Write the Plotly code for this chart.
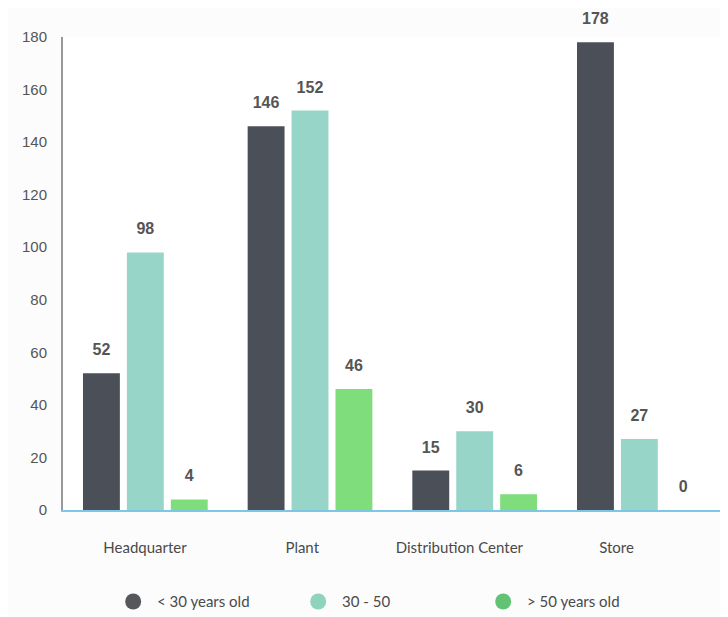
import plotly.graph_objects as go

categories = ["Headquarter", "Plant", "Distribution Center", "Store"]
series_names = ["< 30 years old", "30 - 50", "> 50 years old"]
under_30 = [52, 146, 15, 178]
between_30_50 = [98, 152, 30, 27]
over_50 = [4, 46, 6, 0]
y_ticks = [0, 20, 40, 60, 80, 100, 120, 140, 160, 180]

bar_colors = ["#4b4f57", "#97d5c8", "#80dd7b"]
legend_colors = ["#55575b", "#8ed3bd", "#63c375"]
values = [under_30, between_30_50, over_50]

fig = go.Figure()
for name, vals, col in zip(series_names, values, bar_colors):
    fig.add_trace(go.Bar(
        x=categories, y=vals, name=name, marker_color=col,
        marker_line_width=0,
        text=[f"<span style='font-size:16px'>{v}</span><br> " for v in vals],
        textposition="outside",
        textfont=dict(family="Liberation Sans", size=10, color="#555555", weight="bold"),
        cliponaxis=False, showlegend=False, constraintext="none",
    ))

for name, col in zip(series_names, legend_colors):
    fig.add_trace(go.Scatter(
        x=[None], y=[None], mode="markers", name="\u00a0" + name,
        marker=dict(symbol="circle", size=16, color=col),
        xaxis="x2", showlegend=True,
    ))

# invisible trace carrying the category labels on the overlay axis
fig.add_trace(go.Scatter(x=categories, y=[None]*4, mode="markers", xaxis="x2",
                         showlegend=False, hoverinfo="skip"))

fig.update_layout(
    width=720, height=609,
    margin=dict(l=55, r=3, t=29, b=107, autoexpand=False),
    paper_bgcolor="#fcfcfc", plot_bgcolor="#ffffff",
    barmode="group", bargap=0.2, bargroupgap=0.16,
    xaxis=dict(type="category", range=[-0.5, 3.52], showticklabels=False,
               showline=True, linecolor="#7cc6e6", linewidth=2, ticks="",
               showgrid=False, zeroline=False),
    xaxis2=dict(type="category", overlaying="x", range=[-0.522, 3.69],
                categoryorder="array", categoryarray=categories,
                showline=False, showgrid=False, ticks="", side="bottom",
                tickfont=dict(family="Lato", size=15, color="#4a4a4a"),
                ticklabelstandoff=27, zeroline=False),
    yaxis=dict(range=[0, 180], tickvals=y_ticks, showgrid=False, zeroline=False,
               showline=True, linecolor="#999999", linewidth=2, ticks="",
               tickfont=dict(family="Liberation Sans", size=15, color="#555555"),
               ticklabelstandoff=11),
    legend=dict(orientation="h", x=0.495, xanchor="center", y=-0.194, yanchor="middle",
                font=dict(family="Lato", size=15, color="#4a4a4a"),
                entrywidth=140, entrywidthmode="pixels", itemsizing="trace",
                bgcolor="rgba(0,0,0,0)"),
)

fig.write_html("out.html")
